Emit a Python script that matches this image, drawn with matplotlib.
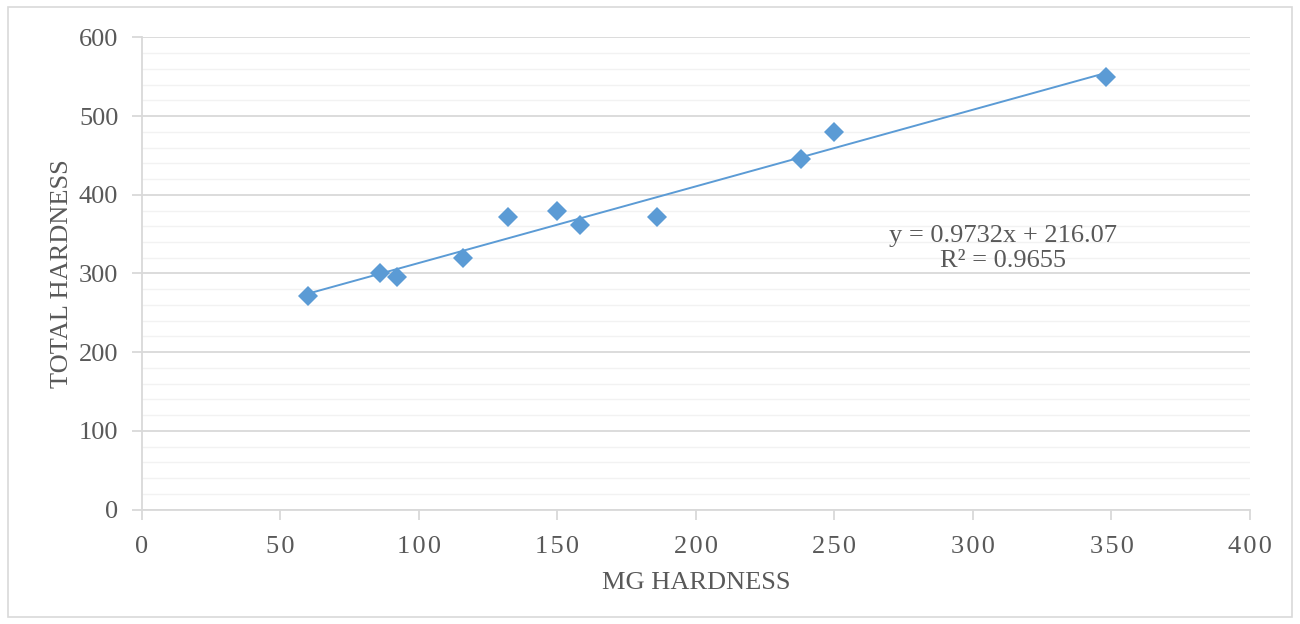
import matplotlib.pyplot as plt
from matplotlib.patches import Rectangle
from matplotlib.ticker import MultipleLocator

# data
mg_hardness = [60, 86, 92, 116, 132, 150, 158, 186, 238, 250, 348]
total_hardness = [272, 300, 296, 320, 372, 380, 361, 372, 445, 480, 549]

slope = 0.9732
intercept = 216.07
r_squared = 0.9655

x_ticks = [0, 50, 100, 150, 200, 250, 300, 350, 400]
y_ticks = [0, 100, 200, 300, 400, 500, 600]

BLUE = "#5B9BD5"
TEXT = "#595959"
GRID = "#D9D9D9"
MINOR = "#F2F2F2"

plt.rcParams["font.family"] = ["Liberation Serif", "DejaVu Serif"]

fig = plt.figure(figsize=(13, 6.24), dpi=100)
ax = fig.add_axes([0.1092, 0.1832, 0.8523, 0.757])

# outer chart border
fig.patches.append(Rectangle((0.006, 0.011), 0.988, 0.978, transform=fig.transFigure,
                             fill=False, edgecolor=GRID, linewidth=1.2))

# trendline
x0, x1 = min(mg_hardness), max(mg_hardness)
ax.plot([x0, x1], [slope * x0 + intercept, slope * x1 + intercept],
        color=BLUE, linewidth=1.4, zorder=3)

ax.plot(mg_hardness, total_hardness, "D", color=BLUE, markersize=10.5,
        markeredgewidth=0, zorder=4)

ax.text(311, 332, f"y = {slope}x + {intercept}\nR² = {r_squared}",
        ha="center", va="center", fontsize=19, color=TEXT, linespacing=1.15)

ax.set_xlim(0, 400)
ax.set_ylim(0, 600)
ax.set_xticks(x_ticks)
# excel spaces out the x tick digits a little
ax.set_xticklabels(["\u200a".join(str(t)) for t in x_ticks])
ax.set_yticks(y_ticks)
ax.yaxis.set_minor_locator(MultipleLocator(20))

ax.grid(True, which="major", axis="y", color=GRID, linewidth=1.3)
ax.grid(True, which="minor", axis="y", color=MINOR, linewidth=1.0)
ax.set_axisbelow(True)

for side in ["top", "right"]:
    ax.spines[side].set_visible(False)
for side in ["left", "bottom"]:
    ax.spines[side].set_color(GRID)
    ax.spines[side].set_linewidth(1.3)

ax.tick_params(axis="both", which="major", colors=GRID, labelcolor=TEXT,
               labelsize=19, length=7, width=1.3)
ax.tick_params(axis="y", which="minor", length=0)
ax.tick_params(axis="x", pad=12)
ax.tick_params(axis="y", pad=10)

ax.set_xlabel("MG HARDNESS", fontsize=19, color=TEXT, labelpad=10)
ax.set_ylabel("TOTAL HARDNESS", fontsize=19, color=TEXT, labelpad=4)

fig.savefig("out.png", dpi=100)
